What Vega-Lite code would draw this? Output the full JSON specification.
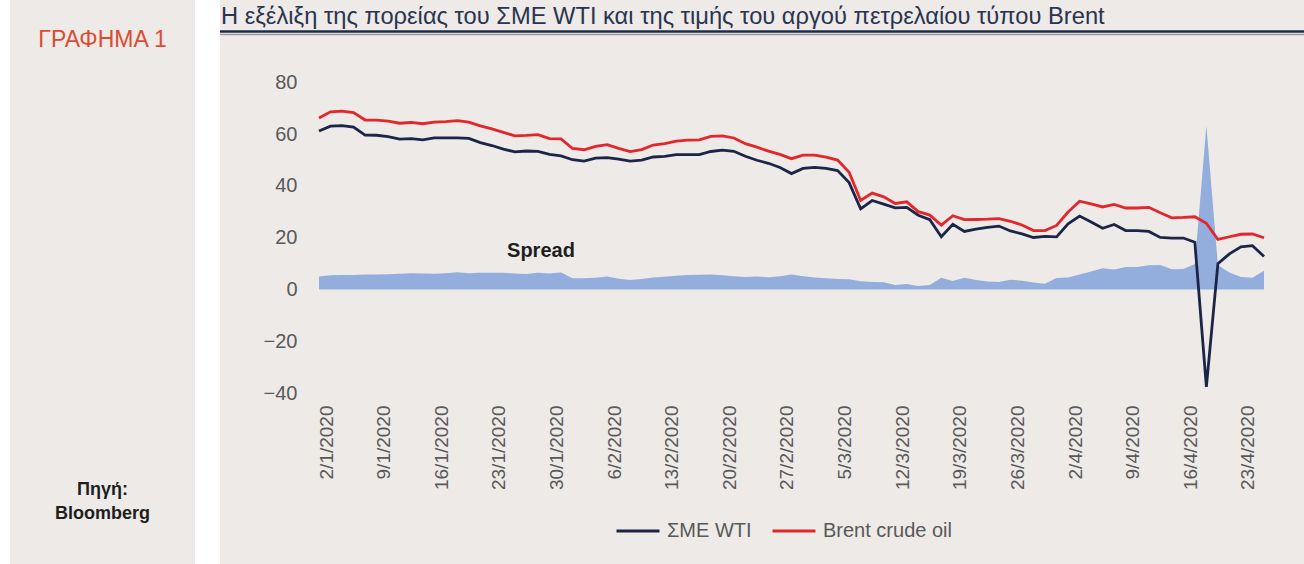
{
  "$schema": "https://vega.github.io/schema/vega-lite/v6.json",
  "padding": {"left": 10, "top": 0, "right": 0, "bottom": 0},
  "background": "#ffffff",
  "spacing": 23,
  "config": {"view": {"stroke": null}, "font": "Liberation Sans"},
  "hconcat": [
    {
      "width": 185,
      "height": 564,
      "view": {"fill": "#edeae7", "stroke": null},
      "layer": [
        {
          "data": {"values": [{"t": "ΓΡΑΦΗΜΑ 1"}]},
          "mark": {"type": "text", "fontSize": 23, "color": "#dd4b33", "baseline": "middle", "font": "Liberation Sans"},
          "encoding": {
            "y": {"field": "t", "type": "ordinal", "axis": null, "scale": {"type": "point", "range": [40, 40]}},
            "text": {"field": "t"}
          }
        },
        {
          "data": {"values": [{"t": "Πηγή:"}, {"t": "Bloomberg"}]},
          "mark": {"type": "text", "fontSize": 18, "fontWeight": "bold", "color": "#1e1e1e", "baseline": "middle", "font": "Liberation Sans"},
          "encoding": {
            "y": {"field": "t", "type": "ordinal", "sort": null, "axis": null, "scale": {"type": "point", "range": [490, 514], "padding": 0}},
            "text": {"field": "t"}
          }
        }
      ],
      "resolve": {"scale": {"y": "independent"}}
    },
    {
      "width": 1086,
      "height": 564,
      "view": {"fill": "#edeae7", "stroke": null},
      "data": {"values": [
        {"d": "2/1/2020", "w": 61.18, "b": 66.25, "s": 5.07},
        {"d": "3/1/2020", "w": 63.05, "b": 68.60, "s": 5.55},
        {"d": "6/1/2020", "w": 63.27, "b": 68.91, "s": 5.64},
        {"d": "7/1/2020", "w": 62.70, "b": 68.27, "s": 5.57},
        {"d": "8/1/2020", "w": 59.61, "b": 65.44, "s": 5.83},
        {"d": "9/1/2020", "w": 59.56, "b": 65.37, "s": 5.81},
        {"d": "10/1/2020", "w": 59.04, "b": 64.98, "s": 5.94},
        {"d": "13/1/2020", "w": 58.08, "b": 64.20, "s": 6.12},
        {"d": "14/1/2020", "w": 58.23, "b": 64.49, "s": 6.26},
        {"d": "15/1/2020", "w": 57.81, "b": 64.00, "s": 6.19},
        {"d": "16/1/2020", "w": 58.52, "b": 64.62, "s": 6.10},
        {"d": "17/1/2020", "w": 58.54, "b": 64.85, "s": 6.31},
        {"d": "20/1/2020", "w": 58.54, "b": 65.20, "s": 6.66},
        {"d": "21/1/2020", "w": 58.34, "b": 64.59, "s": 6.25},
        {"d": "22/1/2020", "w": 56.74, "b": 63.21, "s": 6.47},
        {"d": "23/1/2020", "w": 55.59, "b": 62.04, "s": 6.45},
        {"d": "24/1/2020", "w": 54.19, "b": 60.69, "s": 6.50},
        {"d": "27/1/2020", "w": 53.14, "b": 59.32, "s": 6.18},
        {"d": "28/1/2020", "w": 53.48, "b": 59.51, "s": 6.03},
        {"d": "29/1/2020", "w": 53.33, "b": 59.81, "s": 6.48},
        {"d": "30/1/2020", "w": 52.14, "b": 58.29, "s": 6.15},
        {"d": "31/1/2020", "w": 51.56, "b": 58.16, "s": 6.60},
        {"d": "3/2/2020", "w": 50.11, "b": 54.45, "s": 4.34},
        {"d": "4/2/2020", "w": 49.61, "b": 53.96, "s": 4.35},
        {"d": "5/2/2020", "w": 50.75, "b": 55.28, "s": 4.53},
        {"d": "6/2/2020", "w": 50.95, "b": 55.93, "s": 4.98},
        {"d": "7/2/2020", "w": 50.32, "b": 54.47, "s": 4.15},
        {"d": "10/2/2020", "w": 49.57, "b": 53.27, "s": 3.70},
        {"d": "11/2/2020", "w": 49.94, "b": 54.01, "s": 4.07},
        {"d": "12/2/2020", "w": 51.17, "b": 55.79, "s": 4.62},
        {"d": "13/2/2020", "w": 51.42, "b": 56.34, "s": 4.92},
        {"d": "14/2/2020", "w": 52.05, "b": 57.32, "s": 5.27},
        {"d": "17/2/2020", "w": 52.05, "b": 57.67, "s": 5.62},
        {"d": "18/2/2020", "w": 52.05, "b": 57.75, "s": 5.70},
        {"d": "19/2/2020", "w": 53.29, "b": 59.12, "s": 5.83},
        {"d": "20/2/2020", "w": 53.78, "b": 59.31, "s": 5.53},
        {"d": "21/2/2020", "w": 53.38, "b": 58.50, "s": 5.12},
        {"d": "24/2/2020", "w": 51.43, "b": 56.30, "s": 4.87},
        {"d": "25/2/2020", "w": 49.90, "b": 54.95, "s": 5.05},
        {"d": "26/2/2020", "w": 48.73, "b": 53.43, "s": 4.70},
        {"d": "27/2/2020", "w": 47.09, "b": 52.18, "s": 5.09},
        {"d": "28/2/2020", "w": 44.76, "b": 50.52, "s": 5.76},
        {"d": "2/3/2020", "w": 46.75, "b": 51.90, "s": 5.15},
        {"d": "3/3/2020", "w": 47.18, "b": 51.86, "s": 4.68},
        {"d": "4/3/2020", "w": 46.78, "b": 51.13, "s": 4.35},
        {"d": "5/3/2020", "w": 45.90, "b": 49.99, "s": 4.09},
        {"d": "6/3/2020", "w": 41.28, "b": 45.27, "s": 3.99},
        {"d": "9/3/2020", "w": 31.13, "b": 34.36, "s": 3.23},
        {"d": "10/3/2020", "w": 34.36, "b": 37.22, "s": 2.86},
        {"d": "11/3/2020", "w": 32.98, "b": 35.79, "s": 2.81},
        {"d": "12/3/2020", "w": 31.50, "b": 33.22, "s": 1.72},
        {"d": "13/3/2020", "w": 31.73, "b": 33.85, "s": 2.12},
        {"d": "16/3/2020", "w": 28.70, "b": 30.05, "s": 1.35},
        {"d": "17/3/2020", "w": 26.95, "b": 28.73, "s": 1.78},
        {"d": "18/3/2020", "w": 20.37, "b": 24.88, "s": 4.51},
        {"d": "19/3/2020", "w": 25.22, "b": 28.47, "s": 3.25},
        {"d": "20/3/2020", "w": 22.43, "b": 26.98, "s": 4.55},
        {"d": "23/3/2020", "w": 23.36, "b": 27.03, "s": 3.67},
        {"d": "24/3/2020", "w": 24.01, "b": 27.15, "s": 3.14},
        {"d": "25/3/2020", "w": 24.49, "b": 27.39, "s": 2.90},
        {"d": "26/3/2020", "w": 22.60, "b": 26.34, "s": 3.74},
        {"d": "27/3/2020", "w": 21.51, "b": 24.93, "s": 3.42},
        {"d": "30/3/2020", "w": 20.09, "b": 22.76, "s": 2.67},
        {"d": "31/3/2020", "w": 20.48, "b": 22.74, "s": 2.26},
        {"d": "1/4/2020", "w": 20.31, "b": 24.74, "s": 4.43},
        {"d": "2/4/2020", "w": 25.32, "b": 29.94, "s": 4.62},
        {"d": "3/4/2020", "w": 28.34, "b": 34.11, "s": 5.77},
        {"d": "6/4/2020", "w": 26.08, "b": 33.05, "s": 6.97},
        {"d": "7/4/2020", "w": 23.63, "b": 31.87, "s": 8.24},
        {"d": "8/4/2020", "w": 25.09, "b": 32.84, "s": 7.75},
        {"d": "9/4/2020", "w": 22.76, "b": 31.48, "s": 8.72},
        {"d": "10/4/2020", "w": 22.76, "b": 31.48, "s": 8.72},
        {"d": "13/4/2020", "w": 22.41, "b": 31.74, "s": 9.33},
        {"d": "14/4/2020", "w": 20.11, "b": 29.60, "s": 9.49},
        {"d": "15/4/2020", "w": 19.87, "b": 27.69, "s": 7.82},
        {"d": "16/4/2020", "w": 19.87, "b": 27.82, "s": 7.95},
        {"d": "17/4/2020", "w": 18.27, "b": 28.08, "s": 9.81},
        {"d": "20/4/2020", "w": -37.63, "b": 25.57, "s": 63.20},
        {"d": "21/4/2020", "w": 10.01, "b": 19.33, "s": 9.32},
        {"d": "22/4/2020", "w": 13.78, "b": 20.37, "s": 6.59},
        {"d": "23/4/2020", "w": 16.50, "b": 21.33, "s": 4.83},
        {"d": "24/4/2020", "w": 16.94, "b": 21.44, "s": 4.50},
        {"d": "27/4/2020", "w": 12.78, "b": 19.99, "s": 7.21}
      ]},
      "layer": [
        {
          "mark": {"type": "area", "color": "#8eaadb", "opacity": 0.95},
          "encoding": {
            "x": {"field": "d", "type": "ordinal", "sort": null,
              "scale": {"type": "point", "range": [99, 1044], "padding": 0},
              "axis": {"values": ["2/1/2020", "9/1/2020", "16/1/2020", "23/1/2020", "30/1/2020", "6/2/2020", "13/2/2020", "20/2/2020", "27/2/2020", "5/3/2020", "12/3/2020", "19/3/2020", "26/3/2020", "2/4/2020", "9/4/2020", "16/4/2020", "23/4/2020"],
                "labelAngle": -90, "offset": -161, "domain": false, "ticks": false, "grid": false, "labelFontSize": 19, "labelColor": "#595959", "labelPadding": 2, "title": null, "labelOverlap": false, "labelOffset": 7, "labelBound": false, "labelFont": "Liberation Sans"}},
            "y": {"field": "s", "type": "quantitative",
              "scale": {"domain": [-105.98, 111.78], "nice": false, "zero": false},
              "axis": {"values": [-40, -20, 0, 20, 40, 60, 80], "offset": -79, "domain": false, "ticks": false, "grid": false, "labelFontSize": 20, "labelColor": "#595959", "labelPadding": 2, "title": null, "labelFont": "Liberation Sans"}},
            "y2": {"datum": 0}
          }
        },
        {
          "transform": [{"fold": ["w", "b"], "as": ["k", "v"]}],
          "mark": {"type": "line", "strokeWidth": 2.8},
          "encoding": {
            "x": {"field": "d", "type": "ordinal", "sort": null},
            "y": {"field": "v", "type": "quantitative", "axis": {"title": null}},
            "color": {"field": "k", "type": "nominal",
              "scale": {"domain": ["w", "b"], "range": ["#1c2548", "#e2262b"]},
              "legend": {"orient": "none", "legendX": 605, "legendY": 508, "direction": "horizontal", "title": null, "symbolType": "stroke", "symbolStrokeWidth": 3, "symbolSize": 1849, "labelFontSize": 20, "labelColor": "#595959", "labelOffset": 6, "columnPadding": 14, "padding": 0, "labelFont": "Liberation Sans", "labelExpr": "datum.label == 'w' ? 'ΣΜΕ WTI' : 'Brent crude oil'"}}
          }
        },
        {
          "transform": [{"filter": "datum.d == '29/1/2020'"}],
          "mark": {"type": "text", "text": "Spread", "fontSize": 20, "fontWeight": "bold", "color": "#1e1e1e", "dx": 3, "font": "Liberation Sans"},
          "encoding": {
            "x": {"field": "d", "type": "ordinal", "sort": null},
            "y": {"datum": 15}
          }
        },
        {
          "transform": [{"filter": "datum.d == '2/1/2020'"}],
          "mark": {"type": "text", "text": "Η εξέλιξη της πορείας του ΣΜΕ WTI και της τιμής του αργού πετρελαίου τύπου Brent", "align": "left", "baseline": "alphabetic", "fontSize": 23.7, "color": "#2a3450", "dx": -98, "font": "Liberation Sans"},
          "encoding": {
            "x": {"field": "d", "type": "ordinal", "sort": null},
            "y": {"datum": 102.5}
          }
        },
        {
          "data": {"values": [{}]},
          "mark": {"type": "rule", "color": "#9a9a9a", "strokeWidth": 1.5},
          "encoding": {"y": {"datum": 98.5}}
        },
        {
          "data": {"values": [{}]},
          "mark": {"type": "rule", "color": "#1f2a4a", "strokeWidth": 2.5},
          "encoding": {"y": {"datum": 99.6}}
        }
      ]
    }
  ]
}
